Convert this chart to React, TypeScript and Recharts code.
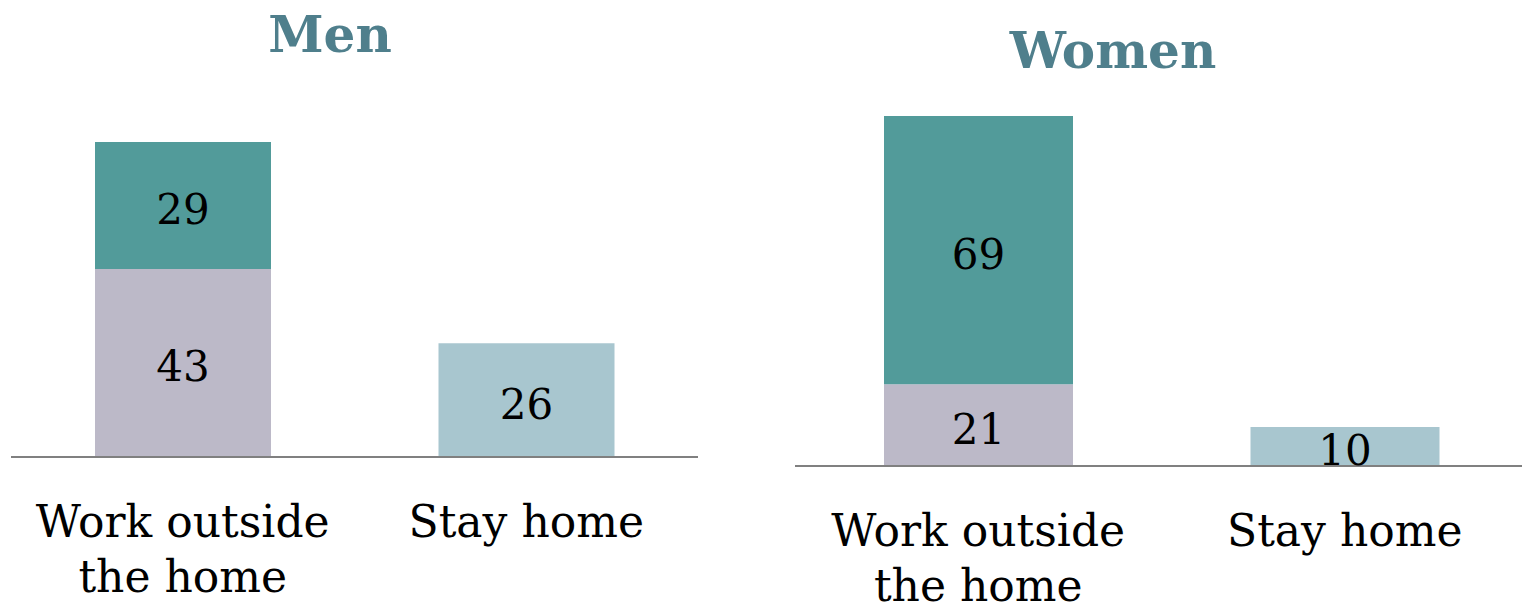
import { BarChart, Bar, XAxis, YAxis, LabelList, Cell } from 'recharts';

const categories = ['Work outside the home', 'Stay home'];
const tickLines = [['Work outside', 'the home'], ['Stay home']];

const menBase = [43, 26];
const menTop = [29, null];
const womenBase = [21, 10];
const womenTop = [69, null];

const COLORS = {
  base: '#bcb9c8',
  stay: '#a8c6cf',
  top: '#529b9a',
  axis: '#808080',
  title: '#4f7f8c',
};

const FONT = '"DejaVu Serif", serif';

function buildRows(base: (number | null)[], top: (number | null)[]) {
  return categories.map((cat, i) => ({ cat, base: base[i], top: top[i] }));
}

function ValueLabel(props: any) {
  const { x, y, width, height, value } = props;
  if (value == null) return null;
  return (
    <text
      x={x + width / 2}
      y={y + height / 2 + 4}
      textAnchor="middle"
      dominantBaseline="central"
      fontFamily={FONT}
      fontSize={42}
      fill="#000"
    >
      {value}
    </text>
  );
}

function CatTick(props: any) {
  const { x, y, index } = props;
  const lines = tickLines[index] || [];
  return (
    <text x={x} y={y} textAnchor="middle" fontFamily={FONT} fontSize={44} fill="#000">
      {lines.map((l, i) => (
        <tspan key={i} x={x} dy={i === 0 ? 80 : 55}>
          {l}
        </tspan>
      ))}
    </text>
  );
}

interface PanelProps {
  title: string;
  base: (number | null)[];
  top: (number | null)[];
  max: number;
  left: number;
  width: number;
  plotTop: number;
  plotHeight: number;
  barSize: number;
  titleX: number;
  titleY: number;
}

function Panel({ title, base, top, max, left, width, plotTop, plotHeight, barSize, titleX, titleY }: PanelProps) {
  const data = buildRows(base, top);
  const height = 606;
  return (
    <div style={{ position: 'absolute', left, top: 0, width, height }}>
      <div
        style={{
          position: 'absolute',
          left: titleX - left - 200,
          width: 400,
          top: titleY,
          textAlign: 'center',
          fontFamily: FONT,
          fontWeight: 'bold',
          fontSize: 50,
          color: COLORS.title,
          lineHeight: 1,
        }}
      >
        {title}
      </div>
      <BarChart
        width={width}
        height={height}
        data={data}
        margin={{ top: plotTop, right: 0, left: 0, bottom: 0 }}
      >
        <XAxis
          dataKey="cat"
          tickLine={false}
          tickSize={0}
          tickMargin={0}
          axisLine={{ stroke: COLORS.axis, strokeWidth: 2 }}
          tick={<CatTick />}
          interval={0}
          height={height - plotTop - plotHeight}
        />
        <YAxis hide domain={[0, max]} />
        <Bar dataKey="base" stackId="a" barSize={barSize} isAnimationActive={false}>
          {data.map((_, i) => (
            <Cell key={i} fill={i === 0 ? COLORS.base : COLORS.stay} />
          ))}
          <LabelList dataKey="base" content={<ValueLabel />} />
        </Bar>
        <Bar dataKey="top" stackId="a" barSize={barSize} fill={COLORS.top} isAnimationActive={false}>
          <LabelList dataKey="top" content={<ValueLabel />} />
        </Bar>
      </BarChart>
    </div>
  );
}

export default function App() {
  return (
    <div
      style={{
        position: 'absolute',
        left: 0,
        top: 0,
        width: 1522,
        height: 606,
        background: '#fff',
        overflow: 'hidden',
      }}
    >
      <Panel
        title="Men"
        base={menBase}
        top={menTop}
        max={80}
        left={11}
        width={687}
        plotTop={107}
        plotHeight={350}
        barSize={176}
        titleX={330}
        titleY={10}
      />
      <Panel
        title="Women"
        base={womenBase}
        top={womenTop}
        max={90}
        left={795}
        width={733}
        plotTop={116}
        plotHeight={350}
        barSize={189}
        titleX={1113}
        titleY={26}
      />
    </div>
  );
}
